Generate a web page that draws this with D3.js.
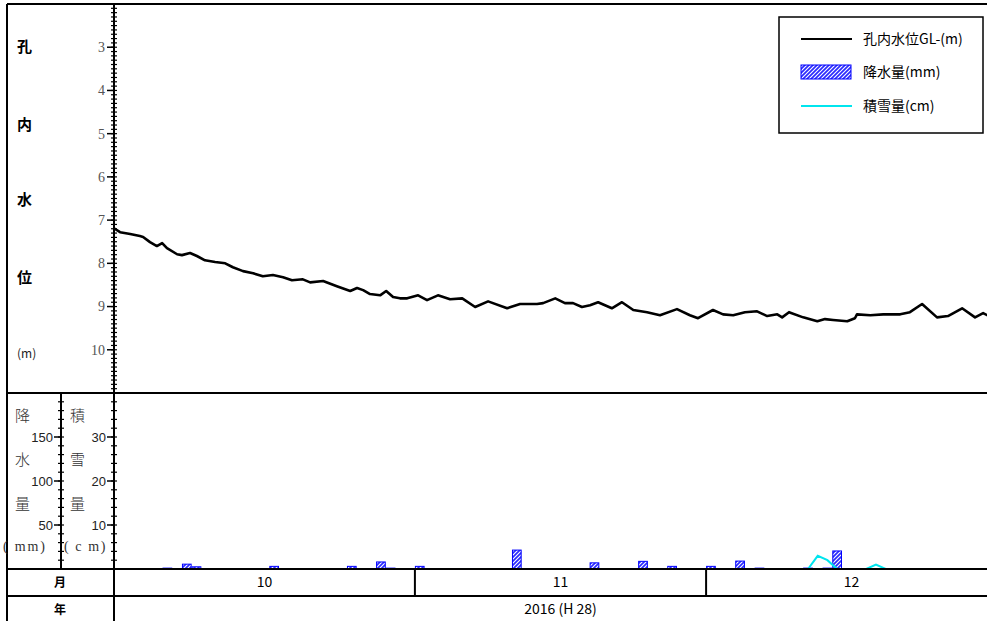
<!DOCTYPE html>
<html><head><meta charset="utf-8">
<script src="https://cdn.jsdelivr.net/npm/d3@7/dist/d3.min.js"></script>
<style>body{margin:0;background:#fff}svg{display:block}</style>
</head><body><svg id="c" width="987" height="621"></svg>
<script>
// ---- data ----
const levelTimes = ["2016-10-01 00","2016-10-01 15","2016-10-02 16","2016-10-03 16","2016-10-04 00","2016-10-04 17","2016-10-05 10","2016-10-05 23","2016-10-06 11","2016-10-07 12","2016-10-08 00","2016-10-08 20","2016-10-09 13","2016-10-10 09","2016-10-11 10","2016-10-12 11","2016-10-13 06","2016-10-14 07","2016-10-15 08","2016-10-16 08","2016-10-17 09","2016-10-18 10","2016-10-19 08","2016-10-20 11","2016-10-21 05","2016-10-22 13","2016-10-23 23","2016-10-25 08","2016-10-26 01","2016-10-26 16","2016-10-27 09","2016-10-28 10","2016-10-29 01","2016-10-29 18","2016-10-30 11","2016-10-31 05","2016-11-01 08","2016-11-02 06","2016-11-03 09","2016-11-04 15","2016-11-05 21","2016-11-07 05","2016-11-08 13","2016-11-10 12","2016-11-11 20","2016-11-13 14","2016-11-14 05","2016-11-15 11","2016-11-16 11","2016-11-17 07","2016-11-18 05","2016-11-19 01","2016-11-19 21","2016-11-21 07","2016-11-22 08","2016-11-23 12","2016-11-24 22","2016-11-26 06","2016-11-28 00","2016-11-29 08","2016-11-30 04","2016-12-01 17","2016-12-02 18","2016-12-03 19","2016-12-05 00","2016-12-06 06","2016-12-07 07","2016-12-08 08","2016-12-08 20","2016-12-09 13","2016-12-11 00","2016-12-12 11","2016-12-13 06","2016-12-14 02","2016-12-15 13","2016-12-16 08","2016-12-16 13","2016-12-17 22","2016-12-19 06","2016-12-21 00","2016-12-22 00","2016-12-23 06","2016-12-24 19","2016-12-25 22","2016-12-27 09","2016-12-28 17","2016-12-29 13","2016-12-29 23","2016-12-31 00"];
const levelValues = [7.19,7.28,7.32,7.37,7.39,7.51,7.60,7.53,7.65,7.79,7.81,7.76,7.83,7.93,7.97,8.00,8.09,8.18,8.23,8.30,8.27,8.32,8.39,8.37,8.44,8.41,8.53,8.64,8.57,8.62,8.71,8.74,8.64,8.78,8.81,8.81,8.74,8.85,8.74,8.83,8.81,9.01,8.88,9.04,8.94,8.94,8.92,8.81,8.92,8.92,9.01,8.97,8.90,9.04,8.90,9.08,9.13,9.20,9.06,9.20,9.27,9.08,9.18,9.20,9.13,9.11,9.22,9.18,9.25,9.13,9.25,9.34,9.29,9.31,9.34,9.27,9.18,9.20,9.18,9.18,9.13,8.94,9.25,9.22,9.04,9.25,9.15,9.20,9.22];

const precipDates = ["2016-10-06","2016-10-08","2016-10-09","2016-10-17","2016-10-25","2016-10-28","2016-10-29","2016-11-01","2016-11-11","2016-11-19","2016-11-24","2016-11-27","2016-11-28","2016-12-01","2016-12-04","2016-12-06","2016-12-07","2016-12-08","2016-12-11","2016-12-13","2016-12-14","2016-12-23","2016-12-27"];
const precipValues = [1,5.5,2.5,3,3,8,1,3,21.5,7,8.7,3,0.5,3,9,1,0.5,0.5,1,1,20.5,0.5,0.5];

const snowDates = ["2016-12-08","2016-12-09","2016-12-10","2016-12-11","2016-12-12","2016-12-13","2016-12-14","2016-12-15","2016-12-16","2016-12-17","2016-12-18","2016-12-19","2016-12-20","2016-12-21"];
const snowValues = [0,0,0,0,3,2,0,0,0,0,1,0,0,0];

const levelTicks = [3,4,5,6,7,8,9,10];
const precipTicks = [50,100,150];
const snowTicks = [10,20,30];
const months = [{label:"10",start:"2016-10-01",end:"2016-11-01"},{label:"11",start:"2016-11-01",end:"2016-12-01"},{label:"12",start:"2016-12-01",end:"2017-01-01"}];
const yearLabel = "2016 (H 28)";
const legendItems = ["孔内水位GL-(m)","降水量(mm)","積雪量(cm)"];

// ---- drawing ----
const parseH = d3.timeParse("%Y-%m-%d %H");
const parseD = d3.timeParse("%Y-%m-%d");
const svg = d3.select("#c");
const L = 114, T = 4, B1 = 393, B2 = 569, B3 = 596, RIGHT = 1007, OUT = 7;
const x = d3.scaleTime().domain([parseD("2016-10-01"), parseD("2017-01-01")]).range([L, RIGHT]);
const yL = d3.scaleLinear().domain([2, 11]).range([T, B1]);
const yP = d3.scaleLinear().domain([0, 200]).range([B2, B1]);
const yS = d3.scaleLinear().domain([0, 40]).range([B2, B1]);

const defs = svg.append("defs");
const pat = defs.append("pattern").attr("id","hatch").attr("patternUnits","userSpaceOnUse")
  .attr("width",4).attr("height",4);
pat.append("rect").attr("width",4).attr("height",4).attr("fill","#2b2bff");
pat.append("path").attr("d","M-1,1 l2,-2 M0,4 l4,-4 M3,5 l2,-2").attr("stroke","#fff").attr("stroke-width",1.1);
defs.append("clipPath").attr("id","clipTop").append("rect").attr("x",L).attr("y",T).attr("width",RIGHT-L).attr("height",B1-T);
defs.append("clipPath").attr("id","clipBot").append("rect").attr("x",L).attr("y",B1).attr("width",RIGHT-L).attr("height",B2-B1);

// water level line
const lvl = levelTimes.map((t,i)=>({t:parseH(t), v:levelValues[i]}));
svg.append("path").datum(lvl).attr("clip-path","url(#clipTop)")
  .attr("fill","none").attr("stroke","#000").attr("stroke-width",2.6).attr("stroke-linejoin","round")
  .attr("d", d3.line().x(d=>x(d.t)).y(d=>yL(d.v)));

// precipitation bars
const pr = precipDates.map((d,i)=>({d:parseD(d), v:precipValues[i]}));
svg.append("g").attr("clip-path","url(#clipBot)").selectAll("rect").data(pr).join("rect")
  .attr("x", d=>x(d.d)+0.5).attr("width", d=>x(d3.timeDay.offset(d.d,1))-x(d.d)-1)
  .attr("y", d=>yP(d.v)).attr("height", d=>yP(0)-yP(d.v))
  .attr("fill","url(#hatch)").attr("stroke","#0000ff").attr("stroke-width",1);

// snow line
const sn = snowDates.map((d,i)=>({d:d3.timeHour.offset(parseD(d),12), v:snowValues[i]}));
svg.append("path").datum(sn).attr("clip-path","url(#clipBot)")
  .attr("fill","none").attr("stroke","#00e5ee").attr("stroke-width",2)
  .attr("d", d3.line().x(d=>x(d.d)).y(d=>yS(d.v)));

// frame
const frame = svg.append("g").attr("stroke","#000").attr("stroke-width",2);
[[OUT,T,987,T],[OUT,B1,987,B1],[OUT,B2,987,B2],[OUT,B3,987,B3],[OUT,T,OUT,621],[L,T,L,621],[61,B1,61,B2]]
  .forEach(s=>frame.append("line").attr("x1",s[0]).attr("y1",s[1]).attr("x2",s[2]).attr("y2",s[3]));
months.slice(1).forEach(m=>frame.append("line").attr("x1",x(parseD(m.start))).attr("x2",x(parseD(m.start))).attr("y1",B2).attr("y2",B3));

// axes helper
function drawAxis(ax, scale, majors, minorStep, lo, hi, labelOff, font, fill, fsize){
  const g = svg.append("g");
  const minors = d3.range(lo, hi + minorStep/2, minorStep);
  g.selectAll("line.mi").data(minors).join("line").attr("class","mi")
    .attr("x1", ax-3).attr("x2", ax+3).attr("y1", d=>scale(d)).attr("y2", d=>scale(d))
    .attr("stroke","#000").attr("stroke-width",1.2);
  g.selectAll("line.ma").data(majors).join("line").attr("class","ma")
    .attr("x1", ax-7).attr("x2", ax).attr("y1", d=>scale(d)).attr("y2", d=>scale(d))
    .attr("stroke","#000").attr("stroke-width",1.5);
  g.selectAll("text").data(majors).join("text")
    .attr("x", ax-labelOff).attr("y", d=>scale(d)).attr("dy","0.35em").attr("text-anchor","end")
    .attr("font-family",font).attr("font-size",fsize).attr("fill",fill).text(d=>d);
}
drawAxis(L, yL, levelTicks, 0.1, 2, 11, 9, "Liberation Serif, serif", "#555", 14);
drawAxis(61, yP, precipTicks, 10, 0, 200, 8, "Liberation Sans, Arial, sans-serif", "#222", 13);
drawAxis(L, yS, snowTicks, 2, 0, 40, 8, "Liberation Sans, Arial, sans-serif", "#222", 13);

// left labels
const jp = "'Noto Sans CJK JP', sans-serif";
const topLab = [["孔",47],["内",125],["水",200],["位",278]];
svg.append("g").selectAll("text").data(topLab).join("text")
  .attr("x",17).attr("y",d=>d[1]).attr("dy","0.35em").attr("font-family",jp).attr("font-weight","bold")
  .attr("font-size",15).attr("fill","#000").text(d=>d[0]);
svg.append("text").attr("x",17).attr("y",354).attr("dy","0.35em").attr("font-family",jp)
  .attr("font-size",12).attr("fill","#222").text("(m)");
const botLab = [["降",416],["水",460],["量",504]];
svg.append("g").selectAll("text").data(botLab).join("text")
  .attr("x",15).attr("y",d=>d[1]).attr("dy","0.35em").attr("font-family",jp).attr("font-weight",300)
  .attr("font-size",15).attr("fill","#333").text(d=>d[0]);
svg.append("g").selectAll("text").data(botLab.map((d,i)=>[["積","雪","量"][i],d[1]])).join("text")
  .attr("x",70).attr("y",d=>d[1]).attr("dy","0.35em").attr("font-family",jp).attr("font-weight",300)
  .attr("font-size",15).attr("fill","#333").text(d=>d[0]);
svg.append("text").attr("x",3).attr("y",546).attr("dy","0.35em").attr("font-family","Liberation Serif, serif")
  .attr("font-size",14).attr("fill","#333").attr("letter-spacing",1.8).attr("xml:space","preserve").text("( mm)");
svg.append("text").attr("x",64).attr("y",546).attr("dy","0.35em").attr("font-family","Liberation Serif, serif")
  .attr("font-size",14).attr("fill","#333").attr("letter-spacing",1.6).attr("xml:space","preserve").text("( c m)");

// month / year rows
svg.append("text").attr("x",60).attr("y",(B2+B3)/2).attr("dy","0.35em").attr("text-anchor","middle")
  .attr("font-family",jp).attr("font-weight","bold").attr("font-size",12).text("月");
svg.append("text").attr("x",60).attr("y",(B3+621)/2+1).attr("dy","0.35em").attr("text-anchor","middle")
  .attr("font-family",jp).attr("font-weight","bold").attr("font-size",12).text("年");
svg.append("g").selectAll("text").data(months).join("text")
  .attr("x", d=>(x(parseD(d.start))+x(parseD(d.end)))/2 - (d.label==="12"?5:0))
  .attr("y",(B2+B3)/2).attr("dy","0.35em").attr("text-anchor","middle")
  .attr("font-family","'Noto Sans CJK JP', sans-serif").attr("font-size",14).text(d=>d.label);
svg.append("text").attr("x",(x.range()[0]+x.range()[1])/2).attr("y",(B3+621)/2+1).attr("dy","0.35em")
  .attr("text-anchor","middle").attr("font-family","'Noto Sans CJK JP', sans-serif").attr("font-size",14)
  .attr("xml:space","preserve").text(yearLabel);

// legend
const lg = svg.append("g");
lg.append("rect").attr("x",779).attr("y",17).attr("width",204).attr("height",116)
  .attr("fill","#fff").attr("stroke","#000").attr("stroke-width",1.5);
const rowsY = [39,72,106];
lg.append("line").attr("x1",801).attr("x2",852).attr("y1",rowsY[0]).attr("y2",rowsY[0]).attr("stroke","#000").attr("stroke-width",2);
lg.append("rect").attr("x",801).attr("y",rowsY[1]-7).attr("width",50).attr("height",14)
  .attr("fill","url(#hatch)").attr("stroke","#0000ff").attr("stroke-width",1);
lg.append("line").attr("x1",801).attr("x2",852).attr("y1",rowsY[2]).attr("y2",rowsY[2]).attr("stroke","#00e5ee").attr("stroke-width",2);
lg.selectAll("text.l").data(legendItems).join("text").attr("class","l")
  .attr("x",863).attr("y",(d,i)=>rowsY[i]).attr("dy","0.35em")
  .attr("font-family",jp).attr("font-size",14).attr("fill","#000").text(d=>d);
</script></body></html>
